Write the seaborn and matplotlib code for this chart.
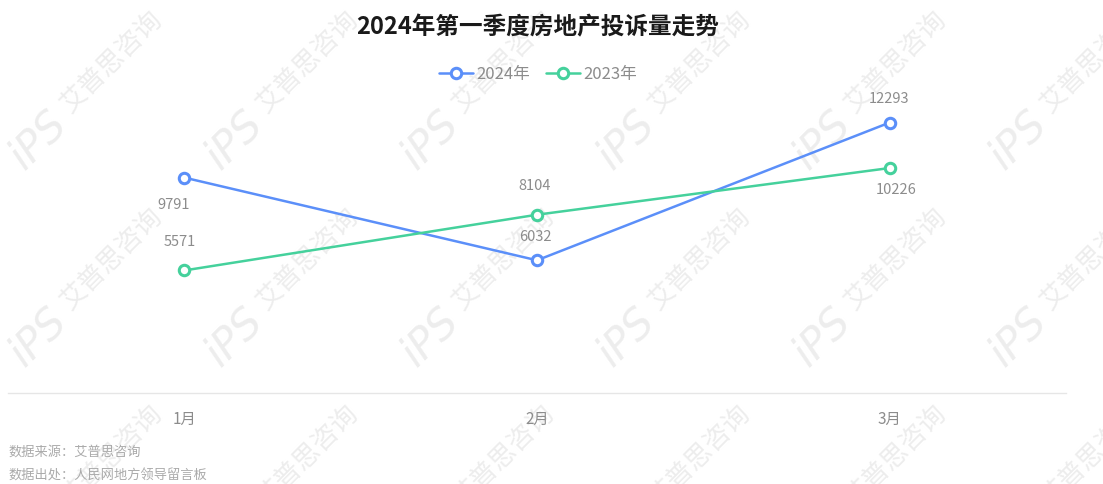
import matplotlib
matplotlib.use('Agg')
import matplotlib.pyplot as plt
import seaborn as sns
import pandas as pd

# ---- data ----
months = ['1月', '2月', '3月']
series_names = ['2024年', '2023年']
values_2024 = [9791, 6032, 12293]
values_2023 = [5571, 8104, 10226]
title = '2024年第一季度房地产投诉量走势'
source_lines = ['数据来源：艾普思咨询', '数据出处：人民网地方领导留言板']
watermark_logo = 'iPS'
watermark_text = '艾普思咨询'

sns.set_theme(style='white')
plt.rcParams['font.family'] = ['Noto Sans CJK SC', 'DejaVu Sans']

df = pd.DataFrame({
    'month': months * 2,
    'value': values_2024 + values_2023,
    'year': [series_names[0]] * len(months) + [series_names[1]] * len(months),
})

W, H = 1103, 484
fig = plt.figure(figsize=(W / 100, H / 100), dpi=100)
fig.patch.set_facecolor('white')

# watermarks (only those at least partly on the canvas)
wm_color = '#ededed'
for r in range(0, 3):
    for c in range(6):
        lx, ly = 38 + 196 * c, 140 + 197 * r
        tx, ty = 112 + 196 * c, 62 + 197 * r
        if ly < H:
            fig.text(lx / W, 1 - ly / H, watermark_logo, rotation=45, rotation_mode='anchor',
                     ha='center', va='center', fontsize=30, fontstyle='italic',
                     color=wm_color, zorder=-1, family=['DejaVu Sans'])
        if ty < H:
            fig.text(tx / W, 1 - ty / H, watermark_text, rotation=45, rotation_mode='anchor',
                     ha='center', va='center', fontsize=19, color=wm_color, zorder=-1)

ax = fig.add_axes([8 / W, 1 - 393 / H, (1066 - 8) / W, (393 - 85) / H])
ax.patch.set_visible(False)

palette = {series_names[0]: '#5B8FF9', series_names[1]: '#45D19C'}
sns.lineplot(data=df, x='month', y='value', hue='year', hue_order=series_names,
             palette=palette, marker='o', markersize=7.5, linewidth=1.8,
             sort=False, legend=False, ax=ax, zorder=3)
for line in ax.lines:
    line.set_markerfacecolor('white')
    line.set_markeredgecolor(line.get_color())
    line.set_markeredgewidth(2.2)

ax.set_xlim(-0.5, 2.5)
ax.set_ylim(0, 14000)
ax.set_xlabel('')
ax.set_ylabel('')
ax.yaxis.set_visible(False)
for s in ['left', 'top', 'right']:
    ax.spines[s].set_visible(False)
ax.spines['bottom'].set_color('#e6e6e6')
ax.spines['bottom'].set_linewidth(1)
ax.set_xticks([-0.5, 0.5, 1.5, 2.5], minor=True)
ax.tick_params(axis='x', which='minor', length=5, width=1, color='#e6e6e6', direction='out')
ax.tick_params(axis='x', which='major', length=0, pad=13, labelsize=11, labelcolor='#8c8c8c')

# data labels (pixel offsets, up positive)
offsets = {
    series_names[0]: [(-11, -27), (-2, 23), (-1, 24)],
    series_names[1]: [(-5, 28), (-2, 29), (6, -22)],
}
series_vals = {series_names[0]: values_2024, series_names[1]: values_2023}
for name in series_names:
    for i, v in enumerate(series_vals[name]):
        dx, dy = offsets[name][i]
        ax.annotate(str(v), xy=(i, v), xytext=(dx * 0.72, dy * 0.72),
                    textcoords='offset points', ha='center', va='center',
                    fontsize=10.5, color='#8c8c8c', zorder=4)

fig.text(538 / W, 1 - 27 / H, title, ha='center', va='center', fontsize=17,
         fontweight='bold', color='#1a1a1a')

handles = ax.lines[:2]
fig.legend(handles, series_names, loc='center', bbox_to_anchor=(538 / W, 1 - 74 / H),
           ncol=2, frameon=False, fontsize=12, handlelength=2.0, handletextpad=0.2,
           columnspacing=1.0, labelcolor='#8c8c8c')

for k, s in enumerate(source_lines):
    fig.text(8 / W, 1 - (452 + 24 * k) / H, s, ha='left', va='center',
             fontsize=9.5, color='#aaaaaa')

fig.savefig('out.png', dpi=100)
